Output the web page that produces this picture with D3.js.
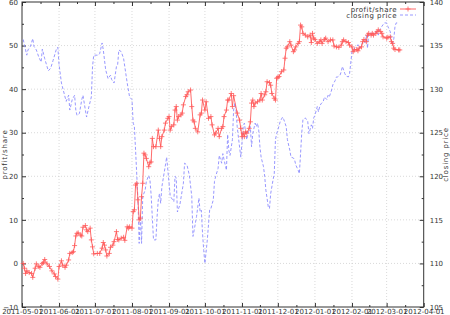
<!DOCTYPE html>
<html lang="en">
<head>
  <meta charset="UTF-8">
  <title>profit/share vs closing price</title>
  <script src="https://d3js.org/d3.v7.min.js"></script>
  <style>
    body { margin: 0; background: #fff; }
    text { font-family: "DejaVu Sans", sans-serif; font-size: 7px; fill: #333; }
  </style>
</head>
<body>
  <div class="canvas"></div>
  <script>
    // profit per share (left axis), [date, value]
    const profit = [
      ["2011-05-02",0.0],["2011-05-03",-1.1],["2011-05-04",-2.3],["2011-05-05",-1.7],["2011-05-07",-2.1],["2011-05-09",-2.3],["2011-05-10",-3.2],["2011-05-12",-1.1],["2011-05-13",-0.1],["2011-05-15",-0.7],["2011-05-16",-0.9],["2011-05-18",0.0],["2011-05-19",0.2],["2011-05-20",0.9],["2011-05-22",-0.1],["2011-05-24",-0.7],["2011-05-26",-1.7],["2011-05-28",-2.4],["2011-05-29",-3.0],["2011-05-31",-3.6],
      ["2011-06-01",-0.7],["2011-06-03",0.6],["2011-06-04",-0.4],["2011-06-06",-0.9],["2011-06-07",-0.4],["2011-06-09",0.8],["2011-06-10",2.3],["2011-06-12",2.5],["2011-06-13",2.7],["2011-06-14",4.1],["2011-06-15",6.3],["2011-06-16",6.9],["2011-06-17",7.0],["2011-06-19",6.5],["2011-06-20",6.3],["2011-06-21",8.3],["2011-06-23",8.7],["2011-06-24",7.7],["2011-06-25",7.3],["2011-06-27",8.1],["2011-06-28",5.4],["2011-06-29",3.8],["2011-06-30",2.2],
      ["2011-07-03",2.3],["2011-07-05",2.3],["2011-07-07",3.5],["2011-07-08",4.8],["2011-07-09",4.2],["2011-07-10",3.1],["2011-07-11",1.7],["2011-07-13",2.3],["2011-07-14",3.7],["2011-07-16",4.2],["2011-07-17",5.0],["2011-07-19",7.3],["2011-07-20",5.5],["2011-07-21",5.4],["2011-07-23",5.8],["2011-07-25",6.0],["2011-07-26",5.3],["2011-07-28",8.4],["2011-07-29",8.1],["2011-07-30",8.4],
      ["2011-08-01",8.1],["2011-08-02",11.9],["2011-08-03",12.3],["2011-08-04",18.0],["2011-08-05",18.4],["2011-08-06",14.6],["2011-08-07",10.0],["2011-08-08",10.4],["2011-08-09",15.3],["2011-08-10",18.4],["2011-08-11",25.3],["2011-08-12",24.9],["2011-08-13",24.1],["2011-08-15",22.2],["2011-08-16",23.1],["2011-08-17",23.3],["2011-08-18",28.7],["2011-08-19",26.8],["2011-08-21",26.8],["2011-08-23",30.6],["2011-08-24",28.7],["2011-08-25",26.8],["2011-08-26",29.1],["2011-08-28",30.6],["2011-08-29",32.2],["2011-08-31",33.3],
      ["2011-09-01",33.7],["2011-09-02",30.6],["2011-09-03",31.4],["2011-09-05",31.8],["2011-09-06",35.2],["2011-09-07",36.0],["2011-09-08",32.9],["2011-09-09",33.7],["2011-09-11",34.1],["2011-09-12",34.5],["2011-09-13",36.4],["2011-09-15",38.3],["2011-09-16",38.7],["2011-09-17",39.4],["2011-09-19",39.8],["2011-09-20",36.0],["2011-09-21",32.9],["2011-09-22",32.5],["2011-09-23",31.0],["2011-09-25",30.2],["2011-09-27",34.1],["2011-09-28",34.5],["2011-09-29",37.5],
      ["2011-10-01",35.2],["2011-10-02",37.1],["2011-10-04",33.3],["2011-10-06",33.7],["2011-10-07",31.8],["2011-10-09",29.5],["2011-10-10",29.9],["2011-10-12",31.0],["2011-10-13",29.1],["2011-10-15",31.0],["2011-10-16",31.4],["2011-10-17",33.7],["2011-10-19",35.2],["2011-10-20",37.5],["2011-10-21",37.5],["2011-10-23",39.0],["2011-10-24",36.0],["2011-10-25",38.5],["2011-10-28",34.5],["2011-10-30",32.9],["2011-10-31",31.0],
      ["2011-11-01",29.1],["2011-11-02",29.9],["2011-11-03",29.1],["2011-11-04",30.2],["2011-11-05",29.9],["2011-11-07",31.0],["2011-11-08",32.5],["2011-11-09",36.8],["2011-11-10",37.5],["2011-11-11",36.0],["2011-11-12",36.8],["2011-11-14",37.1],["2011-11-16",37.5],["2011-11-17",39.0],["2011-11-18",37.5],["2011-11-20",38.7],["2011-11-21",39.4],["2011-11-22",41.7],["2011-11-24",41.5],["2011-11-25",40.9],["2011-11-26",39.0],["2011-11-28",37.9],["2011-11-29",37.5],["2011-11-30",42.5],
      ["2011-12-01",42.7],["2011-12-02",42.9],["2011-12-04",44.0],["2011-12-06",44.4],["2011-12-07",47.1],["2011-12-08",49.4],["2011-12-09",49.7],["2011-12-11",50.9],["2011-12-12",50.1],["2011-12-14",48.6],["2011-12-15",49.0],["2011-12-16",49.7],["2011-12-18",50.5],["2011-12-19",50.9],["2011-12-20",54.7],["2011-12-21",54.3],["2011-12-22",52.8],["2011-12-24",52.4],["2011-12-26",52.0],["2011-12-28",52.4],["2011-12-29",50.7],["2011-12-30",52.8],["2011-12-31",51.7],
      ["2012-01-01",51.4],["2012-01-03",50.5],["2012-01-05",50.9],["2012-01-06",51.3],["2012-01-07",50.5],["2012-01-09",51.4],["2012-01-10",51.7],["2012-01-12",50.9],["2012-01-14",51.3],["2012-01-16",51.3],["2012-01-17",49.9],["2012-01-19",49.7],["2012-01-21",49.6],["2012-01-23",50.1],["2012-01-24",50.9],["2012-01-25",51.3],["2012-01-27",50.9],["2012-01-29",50.7],["2012-01-30",50.1],
      ["2012-02-01",49.7],["2012-02-02",48.6],["2012-02-03",49.0],["2012-02-05",49.1],["2012-02-06",48.8],["2012-02-07",49.4],["2012-02-09",49.7],["2012-02-10",50.9],["2012-02-11",51.4],["2012-02-13",50.9],["2012-02-14",52.4],["2012-02-15",52.8],["2012-02-17",52.4],["2012-02-18",52.8],["2012-02-19",52.4],["2012-02-21",52.8],["2012-02-22",53.2],["2012-02-23",53.6],["2012-02-25",53.2],["2012-02-26",52.8],["2012-02-27",52.0],
      ["2012-03-01",51.7],["2012-03-02",51.9],["2012-03-04",52.0],["2012-03-05",50.9],["2012-03-06",50.5],["2012-03-07",49.4],["2012-03-08",49.1],["2012-03-11",49.0],["2012-03-12",49.0]
    ];

    // closing price (right axis), [date, value]
    const price = [
      ["2011-05-02",135.7],["2011-05-03",135.1],["2011-05-05",133.9],["2011-05-06",134.5],["2011-05-08",134.9],["2011-05-10",135.8],["2011-05-11",134.9],["2011-05-13",134.5],["2011-05-15",133.7],["2011-05-17",133.1],["2011-05-18",134.6],["2011-05-20",133.5],["2011-05-23",132.1],["2011-05-25",132.4],["2011-05-27",133.3],["2011-05-30",134.7],["2011-05-31",134.8],
      ["2011-06-01",132.8],["2011-06-03",130.7],["2011-06-06",129.1],["2011-06-07",128.6],["2011-06-09",129.3],["2011-06-10",127.6],["2011-06-12",128.8],["2011-06-14",129.3],["2011-06-15",127.6],["2011-06-16",127.0],["2011-06-18",127.2],["2011-06-20",128.8],["2011-06-21",129.3],["2011-06-23",127.6],["2011-06-24",126.8],["2011-06-26",128.0],["2011-06-28",129.1],["2011-06-29",132.6],["2011-06-30",133.9],
      ["2011-07-04",133.9],["2011-07-05",134.1],["2011-07-07",135.3],["2011-07-08",134.5],["2011-07-10",132.2],["2011-07-12",131.2],["2011-07-14",131.6],["2011-07-15",131.1],["2011-07-17",130.7],["2011-07-19",132.6],["2011-07-20",132.8],["2011-07-21",134.5],["2011-07-23",134.3],["2011-07-25",133.5],["2011-07-28",130.7],["2011-07-30",129.1],
      ["2011-08-01",128.8],["2011-08-02",126.1],["2011-08-03",125.7],["2011-08-04",123.0],["2011-08-06",117.3],["2011-08-07",112.3],["2011-08-08",115.4],["2011-08-09",112.3],["2011-08-10",117.7],["2011-08-12",118.4],["2011-08-13",119.4],["2011-08-15",120.1],["2011-08-16",119.6],["2011-08-17",117.9],["2011-08-19",112.7],["2011-08-21",112.7],["2011-08-22",115.4],["2011-08-23",117.3],["2011-08-24",118.0],["2011-08-25",116.9],["2011-08-26",118.8],["2011-08-29",121.3],["2011-08-30",122.2],["2011-08-31",120.7],
      ["2011-09-02",117.7],["2011-09-03",117.5],["2011-09-05",117.1],["2011-09-06",120.0],["2011-09-07",119.8],["2011-09-08",115.9],["2011-09-10",116.7],["2011-09-13",119.2],["2011-09-14",121.5],["2011-09-16",121.3],["2011-09-18",120.1],["2011-09-20",117.7],["2011-09-21",113.1],["2011-09-22",113.8],["2011-09-24",115.4],["2011-09-26",117.5],["2011-09-27",115.9],["2011-09-28",116.1],["2011-09-29",113.5],["2011-09-30",111.5],
      ["2011-10-01",110.0],["2011-10-03",112.7],["2011-10-05",116.2],["2011-10-06",116.3],["2011-10-08",117.3],["2011-10-09",119.4],["2011-10-10",120.0],["2011-10-12",120.9],["2011-10-13",122.4],["2011-10-15",121.5],["2011-10-16",122.6],["2011-10-17",121.9],["2011-10-19",120.7],["2011-10-20",124.8],["2011-10-21",123.0],["2011-10-22",122.4],["2011-10-24",124.2],["2011-10-25",127.6],["2011-10-26",128.4],["2011-10-27",127.6],["2011-10-28",125.7],["2011-10-29",124.5],["2011-10-31",122.2],
      ["2011-11-01",123.8],["2011-11-02",125.7],["2011-11-03",126.1],["2011-11-04",125.1],["2011-11-05",124.2],["2011-11-06",124.9],["2011-11-08",125.7],["2011-11-09",123.4],["2011-11-10",124.9],["2011-11-12",126.1],["2011-11-13",125.7],["2011-11-14",126.1],["2011-11-15",125.3],["2011-11-16",123.4],["2011-11-17",122.2],["2011-11-19",121.1],["2011-11-20",120.0],["2011-11-21",118.4],["2011-11-23",116.5],["2011-11-24",116.3],["2011-11-25",118.0],["2011-11-27",119.6],["2011-11-28",120.3],["2011-11-29",124.2],["2011-11-30",124.9],
      ["2011-12-01",125.3],["2011-12-03",126.3],["2011-12-05",126.8],["2011-12-06",126.5],["2011-12-08",125.7],["2011-12-09",124.2],["2011-12-11",123.0],["2011-12-12",122.2],["2011-12-14",122.1],["2011-12-15",121.9],["2011-12-16",121.3],["2011-12-18",120.7],["2011-12-19",120.3],["2011-12-20",122.6],["2011-12-21",125.0],["2011-12-22",126.5],["2011-12-24",126.7],["2011-12-26",126.3],["2011-12-27",124.9],["2011-12-29",125.9],["2011-12-30",125.5],["2011-12-31",126.7],
      ["2012-01-01",127.0],["2012-01-03",128.0],["2012-01-04",127.4],["2012-01-05",128.0],["2012-01-06",128.3],["2012-01-08",128.6],["2012-01-09",129.1],["2012-01-11",128.8],["2012-01-12",129.3],["2012-01-13",129.1],["2012-01-15",129.9],["2012-01-16",130.5],["2012-01-18",131.0],["2012-01-19",131.4],["2012-01-20",131.4],["2012-01-22",131.6],["2012-01-23",132.0],["2012-01-24",132.6],["2012-01-25",132.2],["2012-01-26",131.8],["2012-01-27",131.5],["2012-01-29",131.4],["2012-01-30",131.8],["2012-01-31",133.0],
      ["2012-02-01",134.3],["2012-02-02",134.5],["2012-02-03",134.7],["2012-02-05",134.9],["2012-02-06",135.1],["2012-02-07",134.7],["2012-02-09",135.1],["2012-02-10",135.4],["2012-02-11",135.6],["2012-02-12",135.3],["2012-02-13",136.2],["2012-02-14",134.7],["2012-02-15",136.4],["2012-02-17",136.4],["2012-02-19",136.4],["2012-02-20",136.5],["2012-02-22",136.6],["2012-02-23",136.2],["2012-02-24",136.8],["2012-02-26",137.2],["2012-02-27",137.4],["2012-02-28",137.6],
      ["2012-03-01",137.6],["2012-03-02",137.2],["2012-03-04",136.6],["2012-03-05",135.6],["2012-03-06",135.1],["2012-03-07",135.8],["2012-03-08",137.2],["2012-03-09",137.6],["2012-03-11",137.6]
    ];

    const xDomain = ["2011-05-01", "2012-04-01"];
    const yTicks = [-10, 0, 10, 20, 30, 40, 50, 60];
    const y2Ticks = [105, 110, 115, 120, 125, 130, 135, 140];
    const seriesNames = ["profit/share", "closing price"];

    const width = 450;
    const height = 315;
    const [mt, mb, mr, ml] = [2, 8, 26.3, 22];
    const parse = d3.timeParse('%Y-%m-%d');
    const red = '#ff5a5a';
    const blue = '#8c8cff';

    const svg = d3.select('.canvas')
                  .append('svg')
                  .attr('width', width)
                  .attr('height', height);

    const x = d3.scaleTime()
                .domain(xDomain.map(parse))
                .range([ml, width - mr]);
    const y = d3.scaleLinear()
                .domain([yTicks[0], yTicks[yTicks.length - 1]])
                .range([height - mb, mt]);
    const y2 = d3.scaleLinear()
                 .domain([y2Ticks[0], y2Ticks[y2Ticks.length - 1]])
                 .range([height - mb, mt]);

    const months = d3.timeMonth.range(x.domain()[0], d3.timeDay.offset(x.domain()[1], 1));
    const midMonths = d3.pairs(months).map(([a, b]) => new Date((+a + +b) / 2));
    const mid = ticks => d3.pairs(ticks).map(([a, b]) => (a + b) / 2);

    // dotted grid
    const grid = svg.append('g')
                    .attr('stroke', '#c8c8c8')
                    .attr('stroke-width', 0.7)
                    .attr('stroke-dasharray', '1,2');
    grid.selectAll('.gx').data(months.slice(1, -1)).enter()
        .append('line')
        .attr('x1', d => x(d)).attr('x2', d => x(d))
        .attr('y1', mt).attr('y2', height - mb);
    grid.selectAll('.gy').data(yTicks.slice(1, -1)).enter()
        .append('line')
        .attr('x1', ml).attr('x2', width - mr)
        .attr('y1', d => y(d)).attr('y2', d => y(d));

    // axes (ticks point inwards)
    const fmt = d3.timeFormat('%Y-%m-%d');
    const style = g => {
      g.select('.domain').remove();
      g.selectAll('line').attr('stroke', '#333');
      g.selectAll('text').attr('font-family', null).attr('font-size', null);
    };
    svg.append('g')
       .attr('transform', `translate(0, ${height - mb})`)
       .call(d3.axisBottom(x).tickValues(months).tickFormat(fmt).tickSizeInner(-4).tickPadding(2))
       .call(style);
    svg.append('g')
       .attr('transform', `translate(0, ${height - mb})`)
       .call(d3.axisBottom(x).tickValues(midMonths).tickFormat('').tickSizeInner(-2))
       .call(style);
    svg.append('g')
       .attr('transform', `translate(0, ${mt})`)
       .call(d3.axisTop(x).tickValues(months).tickFormat('').tickSizeInner(-4))
       .call(style);
    svg.append('g')
       .attr('transform', `translate(0, ${mt})`)
       .call(d3.axisTop(x).tickValues(midMonths).tickFormat('').tickSizeInner(-2))
       .call(style);
    svg.append('g')
       .attr('transform', `translate(${ml}, 0)`)
       .call(d3.axisLeft(y).tickValues(yTicks).tickSizeInner(-4).tickPadding(4))
       .call(style);
    svg.append('g')
       .attr('transform', `translate(${ml}, 0)`)
       .call(d3.axisLeft(y).tickValues(mid(yTicks)).tickFormat('').tickSizeInner(-2))
       .call(style);
    svg.append('g')
       .attr('transform', `translate(${width - mr}, 0)`)
       .call(d3.axisRight(y2).tickValues(y2Ticks).tickSizeInner(-4).tickPadding(6))
       .call(style);
    svg.append('g')
       .attr('transform', `translate(${width - mr}, 0)`)
       .call(d3.axisRight(y2).tickValues(mid(y2Ticks)).tickFormat('').tickSizeInner(-2))
       .call(style);

    // frame
    svg.append('rect')
       .attr('x', ml).attr('y', mt)
       .attr('width', width - mr - ml).attr('height', height - mb - mt)
       .attr('fill', 'none').attr('stroke', '#333').attr('stroke-width', 1);

    // closing price: dashed blue
    const priceLine = d3.line()
                        .x(d => x(parse(d[0])))
                        .y(d => y2(d[1]));
    svg.append('path')
       .attr('fill', 'none')
       .attr('stroke', blue)
       .attr('stroke-width', 0.9)
       .attr('stroke-dasharray', '3,2')
       .attr('d', priceLine(price));

    // profit/share: red line with + points
    const profitLine = d3.line()
                         .x(d => x(parse(d[0])))
                         .y(d => y(d[1]));
    svg.append('path')
       .attr('fill', 'none')
       .attr('stroke', red)
       .attr('stroke-width', 0.9)
       .attr('d', profitLine(profit));

    const plus = 'M-2.5,0H2.5M0,-2.5V2.5';
    svg.append('g').selectAll('path').data(profit).enter()
       .append('path')
       .attr('transform', d => `translate(${x(parse(d[0]))}, ${y(d[1])})`)
       .attr('d', plus)
       .attr('stroke', red)
       .attr('stroke-width', 0.8);

    // axis titles
    svg.append('text')
       .attr('transform', `translate(7, ${(mt + height - mb) / 2}) rotate(-90)`)
       .attr('text-anchor', 'middle')
       .attr('letter-spacing', 0.8)
       .text(seriesNames[0]);
    svg.append('text')
       .attr('transform', `translate(448, ${(mt + height - mb) / 2}) rotate(-90)`)
       .attr('text-anchor', 'middle')
       .attr('letter-spacing', 0.8)
       .text(seriesNames[1]);

    // key
    const key = svg.append('g');
    key.append('text').attr('x', 397).attr('y', 11.5)
       .attr('text-anchor', 'end').attr('letter-spacing', 0.5).text(seriesNames[0]);
    key.append('text').attr('x', 397).attr('y', 17.5)
       .attr('text-anchor', 'end').attr('letter-spacing', 0.5).text(seriesNames[1]);
    key.append('line').attr('x1', 400).attr('x2', 416).attr('y1', 9).attr('y2', 9)
       .attr('stroke', red).attr('stroke-width', 0.9);
    key.append('path').attr('transform', 'translate(408, 9)').attr('d', plus)
       .attr('stroke', red).attr('stroke-width', 0.8);
    key.append('line').attr('x1', 400).attr('x2', 416).attr('y1', 15).attr('y2', 15)
       .attr('stroke', blue).attr('stroke-width', 0.9).attr('stroke-dasharray', '3,2');
  </script>
</body>
</html>
